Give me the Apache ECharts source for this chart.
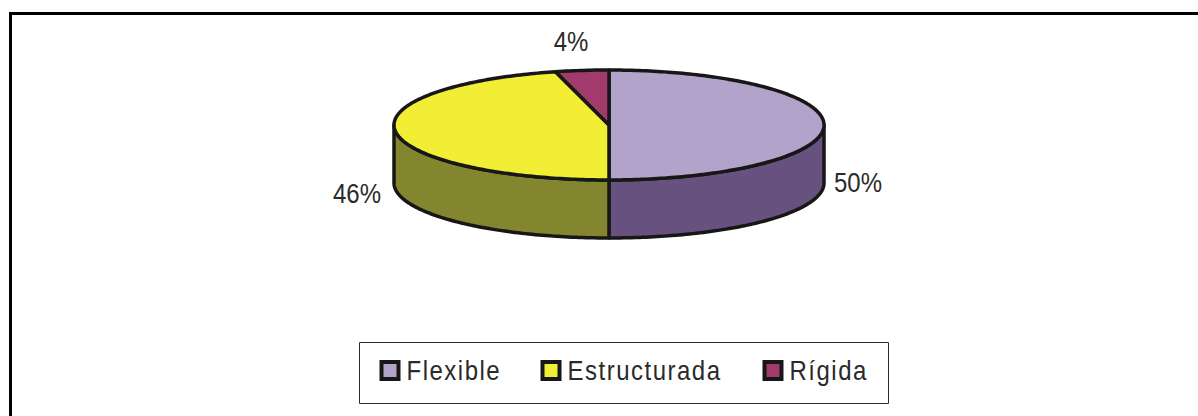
<!DOCTYPE html>
<html><head><meta charset="utf-8">
<style>html,body{margin:0;padding:0;background:#fff}#c{width:1198px;height:416px}</style>
<script src="https://cdn.jsdelivr.net/npm/echarts@6/dist/echarts.min.js"></script>
</head><body><div id="c"></div>
<script>
const categories = ['Flexible', 'Estructurada', 'Rígida'];
const shares = [50, 46, 4];
const topColors = ['#B2A3CB', '#F2EE36', '#A33A6C'];
const sideColors = ['#67527F', '#84852F', '#7A2A50'];

// drawing geometry of the tilted disc
const CX = 609, CY = 125, RX = 215, RY = 55, DEPTH = 58;
const OUTLINE = '#171717';
const labelPos = [[858, 182], [357, 193], [571, 41]];
const legendLeft = [379.5, 540.5, 762.5];
const total = shares.reduce((a, b) => a + b, 0);

function pt(deg, dy) {
  const t = deg * Math.PI / 180;
  return [CX + RX * Math.sin(t), CY + (dy || 0) - RY * Math.cos(t)];
}
function arc(a, b, dy) {
  const out = [];
  const n = Math.max(2, Math.ceil(Math.abs(b - a)));
  for (let i = 0; i <= n; i++) out.push(pt(a + (b - a) * i / n, dy));
  return out;
}
function renderSlice(idx) {
  return function (params, api) {
    const v = api.value(0);
    let before = 0;
    for (let i = 0; i < idx; i++) before += shares[i];
    const a = before / total * 360, b = (before + v) / total * 360;
    const children = [];
    const sa = Math.max(a, 90), sb = Math.min(b, 270);
    const style = { lineWidth: 3.5, stroke: OUTLINE, lineJoin: 'round' };
    if (sb > sa) {
      children.push({
        type: 'polygon',
        shape: { points: arc(sa, sb, 0).concat(arc(sb, sa, DEPTH)) },
        style: Object.assign({ fill: sideColors[idx] }, style)
      });
    }
    children.push({
      type: 'polygon',
      shape: { points: [[CX, CY]].concat(arc(a, b, 0)) },
      style: Object.assign({ fill: topColors[idx] }, style)
    });
    children.push({
      type: 'text',
      x: labelPos[idx][0], y: labelPos[idx][1], scaleY: 1.17,
      style: {
        text: v + '%', x: 0, y: 0,
        align: 'center', verticalAlign: 'middle',
        font: '24px "Liberation Sans"', fill: '#2a2a2a'
      }
    });
    return { type: 'group', children };
  };
}

const chart = echarts.init(document.getElementById('c'), null, { renderer: 'svg' });
chart.setOption({
  animation: false,
  backgroundColor: '#fff',
  graphic: [
    { type: 'polyline', silent: true, z: -1,
      shape: { points: [[10.5, 416], [10.5, 13.5], [1198, 13.5]] },
      style: { stroke: '#000', lineWidth: 3, fill: null } },
    { type: 'rect', silent: true, z: -1,
      shape: { x: 359.5, y: 342.5, width: 529, height: 61 },
      style: { stroke: '#2a2a2a', lineWidth: 1, fill: '#fff' } }
  ],
  legend: categories.map((name, i) => ({
    left: legendLeft[i], top: 358.5, orient: 'horizontal',
    padding: 0, itemWidth: 17, itemHeight: 17, itemGap: 0,
    selectedMode: false,
    data: [{ name, icon: 'rect',
      itemStyle: { color: topColors[i], borderColor: OUTLINE, borderWidth: 4 } }],
    textStyle: { fontFamily: 'Liberation Sans', fontSize: 24, color: '#2a2a2a', padding: [0, 0, 0, 3] }
  })),
  series: categories.map((name, i) => ({
    type: 'custom', name, coordinateSystem: 'none',
    renderItem: renderSlice(i),
    itemStyle: { color: topColors[i] },
    data: [[shares[i]]]
  }))
});
function spaceLegend() {
  document.querySelectorAll('#c svg text').forEach(t => {
    if (categories.includes(t.textContent.trim()) && !t.dataset.done) {
      t.dataset.done = '1';
      t.style.letterSpacing = '1.5px';
      const m = t.getAttribute('transform') || '';
      const base = parseFloat(t.getAttribute('y') || '0');
      t.setAttribute('transform', m + ' translate(0,' + (base * -0.12) + ') scale(1,1.12)');
    }
  });
}
spaceLegend();
chart.on('finished', spaceLegend);
</script></body></html>
